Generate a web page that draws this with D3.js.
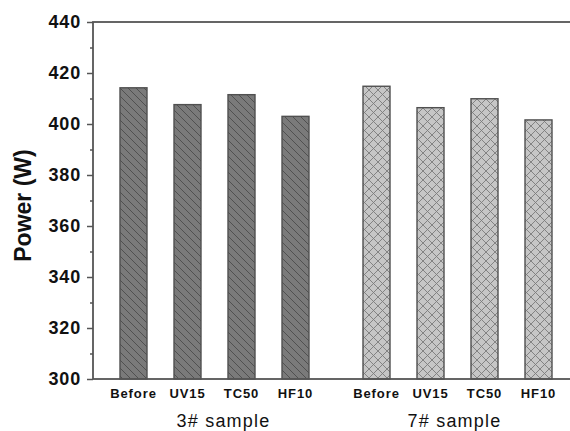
<!DOCTYPE html>
<html>
<head>
<meta charset="utf-8">
<script src="https://cdn.jsdelivr.net/npm/d3@7"></script>
<style>
  body { margin: 0; background: #fff; }
  svg { display: block; font-family: "Liberation Sans", Arial, sans-serif; }
  .tick-label { font-size: 18px; font-weight: bold; letter-spacing: 0.8px; fill: #111; }
  .cat { font-size: 13px; font-weight: bold; letter-spacing: 0.9px; fill: #111; }
  .grp { font-size: 18px; letter-spacing: 1.2px; fill: #111; }
  .ytitle { font-size: 23px; font-weight: bold; fill: #111; }
</style>
</head>
<body>
<div id="chart"></div>
<script>
const groups = ['3# sample', '7# sample'];
const categories = ['Before', 'UV15', 'TC50', 'HF10'];
const sample3 = [414.2, 407.6, 411.5, 403.0];
const sample7 = [414.8, 406.4, 409.9, 401.6];
const yTicks = [300, 320, 340, 360, 380, 400, 420, 440];

const config = {
  'width': 570,
  'height': 431,
  'margins': { 'top': 22, 'right': -9, 'bottom': 52, 'left': 93 }
}

const rows = [];
groups.forEach((g, gi) => {
  const vals = gi == 0 ? sample3 : sample7;
  categories.forEach((c, i) => rows.push({ group: g, cat: c, value: vals[i], gi: gi }));
});

const svg = d3.select('#chart').append('svg')
  .attr('width', config.width)
  .attr('height', config.height);

const defs = svg.append('defs');

// hatch for first group: "\" diagonals
const p1 = defs.append('pattern')
  .attr('id', 'hatch1')
  .attr('patternUnits', 'userSpaceOnUse')
  .attr('width', 8).attr('height', 8);
p1.append('rect').attr('width', 8).attr('height', 8).attr('fill', '#7a7a7a');
p1.append('path').attr('d', 'M-2,-2 L10,10 M-2,6 L2,10 M6,-2 L10,2')
  .attr('stroke', '#4c4c4c').attr('stroke-width', 0.9);

// crosshatch for second group
const p2 = defs.append('pattern')
  .attr('id', 'hatch2')
  .attr('patternUnits', 'userSpaceOnUse')
  .attr('width', 9).attr('height', 9);
p2.append('rect').attr('width', 9).attr('height', 9).attr('fill', '#c6c6c6');
p2.append('path').attr('d', 'M0,0 L9,9 M9,0 L0,9')
  .attr('stroke', '#7c7c7c').attr('stroke-width', 0.9);

const x0 = d3.scaleBand()
  .domain(groups)
  .range([config.margins.left, config.width - config.margins.right])
  .padding(0);

const x1 = d3.scaleBand()
  .domain(categories)
  .range([0, x0.bandwidth()])
  .padding(0.5);

const y = d3.scaleLinear()
  .domain([300, 440])
  .range([config.height - config.margins.bottom, config.margins.top]);

const plotBottom = y(300);
const plotTop = y(440);
const plotRight = config.width - config.margins.right;

// bars
svg.selectAll('rect.bar')
  .data(rows)
  .join('rect')
    .attr('class', 'bar')
    .attr('x', d => x0(d.group) + x1(d.cat))
    .attr('y', d => y(d.value))
    .attr('width', x1.bandwidth())
    .attr('height', d => plotBottom - y(d.value))
    .attr('fill', d => d.gi == 0 ? 'url(#hatch1)' : 'url(#hatch2)')
    .attr('stroke', '#505050')
    .attr('stroke-width', 1.4);

// frame
svg.append('rect')
  .attr('x', config.margins.left)
  .attr('y', plotTop)
  .attr('width', plotRight - config.margins.left)
  .attr('height', plotBottom - plotTop)
  .attr('fill', 'none')
  .attr('stroke', '#555')
  .attr('stroke-width', 1.8);

// y axis
const yAxis = d3.axisLeft(y)
  .tickValues(yTicks)
  .tickSize(6)
  .tickPadding(6);

const yg = svg.append('g')
  .attr('transform', `translate(${config.margins.left},0)`)
  .call(yAxis);
yg.select('path.domain').remove();
yg.selectAll('.tick line').attr('stroke', '#555').attr('stroke-width', 1.5);
yg.selectAll('.tick text').attr('class', 'tick-label').attr('font-size', null).attr('font-family', null);

// minor ticks
const minorAxis = d3.axisLeft(y)
  .tickValues(d3.range(310, 440, 20))
  .tickSize(3)
  .tickFormat('');
const mg = svg.append('g')
  .attr('transform', `translate(${config.margins.left},0)`)
  .call(minorAxis);
mg.select('path.domain').remove();
mg.selectAll('.tick line').attr('stroke', '#555').attr('stroke-width', 1.5);

// category labels
svg.selectAll('text.cat')
  .data(rows)
  .join('text')
    .attr('class', 'cat')
    .attr('x', d => x0(d.group) + x1(d.cat) + x1.bandwidth() / 2)
    .attr('y', plotBottom + 19)
    .attr('text-anchor', 'middle')
    .text(d => d.cat);

// group labels (slightly off-centre in the original)
svg.selectAll('text.grp')
  .data(groups)
  .join('text')
    .attr('class', 'grp')
    .attr('x', d => x0(d) + x0.bandwidth() / 2)
    .attr('dx', (d, i) => i == 0 ? 9 : -3)
    .attr('y', plotBottom + 48)
    .attr('text-anchor', 'middle')
    .text(d => d);

// y title
svg.append('text')
  .attr('class', 'ytitle')
  .attr('transform', `translate(31, ${(plotTop + plotBottom) / 2 + 5}) rotate(-90)`)
  .attr('text-anchor', 'middle')
  .text('Power (W)');
</script>
</body>
</html>
